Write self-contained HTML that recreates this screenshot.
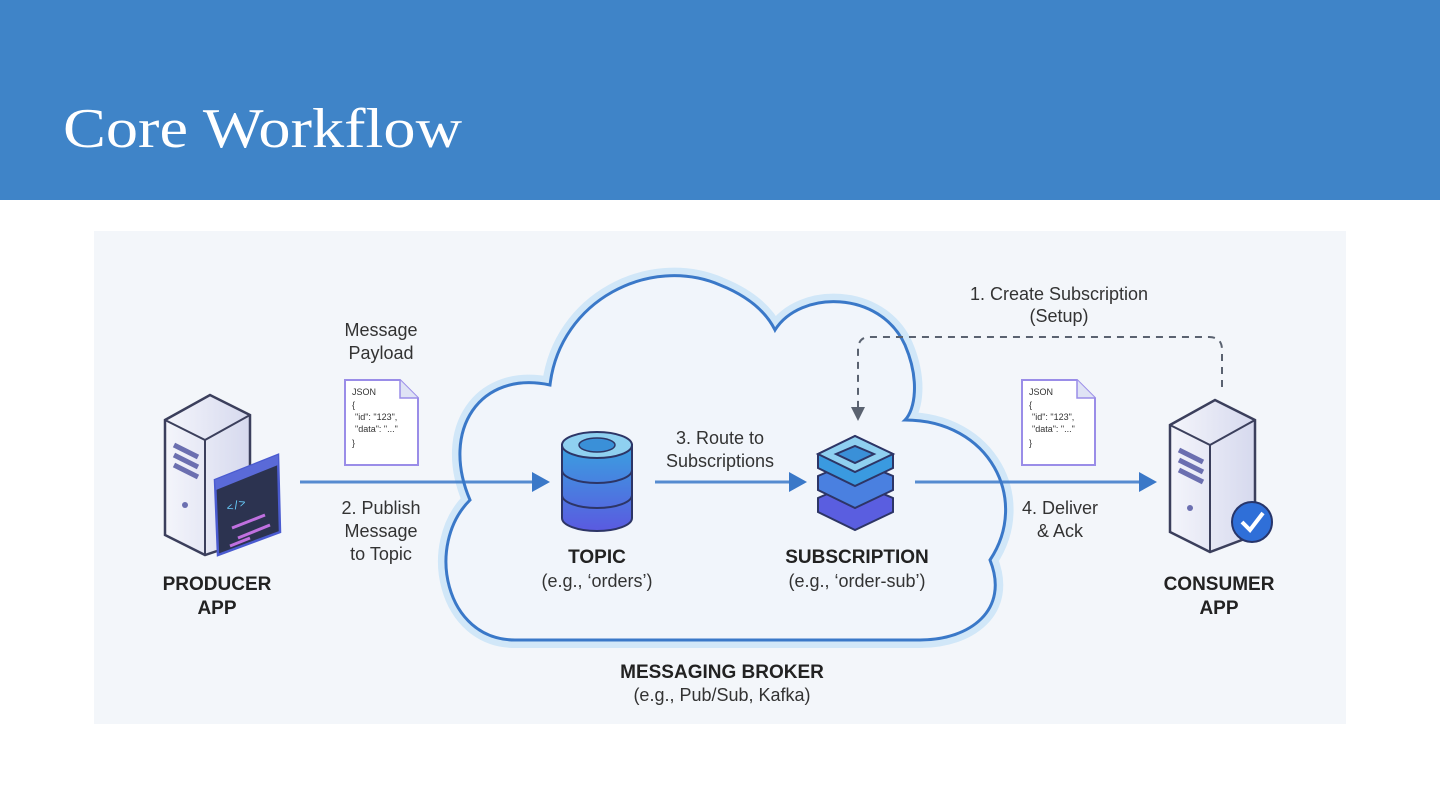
<!DOCTYPE html>
<html><head><meta charset="utf-8"><style>
html,body{margin:0;padding:0;width:1440px;height:810px;overflow:hidden;background:#fff}
svg{display:block}
</style></head><body>
<svg width="1440" height="810" viewBox="0 0 1440 810" xmlns="http://www.w3.org/2000/svg">
<defs>
<linearGradient id="cyl" x1="0" y1="0" x2="0" y2="1"><stop offset="0" stop-color="#3aa0e0"/><stop offset="1" stop-color="#5a5ae0"/></linearGradient>
<linearGradient id="srv" x1="0" x2="1"><stop offset="0" stop-color="#f4f5fb"/><stop offset="1" stop-color="#d6d9ee"/></linearGradient>
</defs>
<rect x="0" y="0" width="1440" height="200" fill="#3f84c8"/>
<text x="63" y="147" font-family="Liberation Serif, serif" font-size="56" fill="#fff" textLength="399" lengthAdjust="spacingAndGlyphs">Core Workflow</text>
<rect x="94" y="231" width="1252" height="493" fill="#f3f6fa"/>
<path d="M515 640 C445 640 425 545 470 500 C440 430 480 370 550 385 C560 300 650 255 720 285 C745 295 765 310 775 330 C800 290 880 290 905 345 C920 380 915 410 905 420 C990 420 1030 500 990 560 C1010 610 970 640 920 640 Z" fill="#e9f2fc" stroke="#c9e4f8" stroke-width="16" opacity="0.8"/>
<path d="M515 640 C445 640 425 545 470 500 C440 430 480 370 550 385 C560 300 650 255 720 285 C745 295 765 310 775 330 C800 290 880 290 905 345 C920 380 915 410 905 420 C990 420 1030 500 990 560 C1010 610 970 640 920 640 Z" fill="#f1f5fb" stroke="#3a78c8" stroke-width="3"/>
<g stroke="#3a78c8" stroke-width="3">
<line x1="300" y1="482" x2="535" y2="482" stroke-opacity="0.85"/>
<line x1="655" y1="482" x2="792" y2="482" stroke-opacity="0.85"/>
<line x1="915" y1="482" x2="1142" y2="482" stroke-opacity="0.85"/>
</g>
<g fill="#3a78c8">
<path d="M532 472 L550 482 L532 492 Z"/>
<path d="M789 472 L807 482 L789 492 Z"/>
<path d="M1139 472 L1157 482 L1139 492 Z"/>
</g>
<path d="M1222 387 L1222 350 Q1222 337 1209 337 L870 337 Q858 337 858 350 L858 408" fill="none" stroke="#5a6270" stroke-width="2" stroke-dasharray="7,6"/>
<path d="M851 407 L865 407 L858 421 Z" fill="#5a6270"/>
<g>
<path d="M165 420 L210 395 L250 415 L250 540 L205 555 L165 535 Z" fill="url(#srv)" stroke="#3b3f5c" stroke-width="2.5"/>
<path d="M165 420 L205 440 L250 415 M205 440 L205 555" fill="none" stroke="#3b3f5c" stroke-width="2"/>
<path d="M174 445 L198 457 M174 455 L198 467 M174 465 L198 477" stroke="#6b6fb0" stroke-width="5"/>
<circle cx="185" cy="505" r="3" fill="#6b6fb0"/>
<path d="M215 480 L278 455 L280 532 L218 555 Z" fill="#2c3350" stroke="#4a5bd0" stroke-width="2.5"/>
<path d="M215 480 L278 455 L278 465 L216 490 Z" fill="#5a6ad8"/>
<text x="228" y="512" font-family="Liberation Mono, monospace" font-size="11" fill="#6ad0ff" transform="rotate(-20 228 512)">&lt;/&gt;</text>
<path d="M232 528 L265 515 M238 538 L270 525 M230 546 L250 538" stroke="#c070e0" stroke-width="3"/>
</g>
<g>
<path d="M1170 425 L1215 400 L1255 420 L1255 535 L1210 552 L1170 532 Z" fill="url(#srv)" stroke="#3b3f5c" stroke-width="2.5"/>
<path d="M1170 425 L1210 445 L1255 420 M1210 445 L1210 552" fill="none" stroke="#3b3f5c" stroke-width="2"/>
<path d="M1179 450 L1203 462 M1179 460 L1203 472 M1179 470 L1203 482" stroke="#6b6fb0" stroke-width="5"/>
<circle cx="1190" cy="508" r="3" fill="#6b6fb0"/>
<circle cx="1252" cy="522" r="20" fill="#2f6fd8" stroke="#27356a" stroke-width="2"/>
<path d="M1242 522 L1250 530 L1263 513" fill="none" stroke="#fff" stroke-width="4"/>
</g>
<g>
<path d="M562 445 L562 518 A35 13 0 0 0 632 518 L632 445 Z" fill="url(#cyl)" stroke="#2d3566" stroke-width="2"/>
<ellipse cx="597" cy="445" rx="35" ry="13" fill="#8fd0f0" stroke="#2d3566" stroke-width="2"/>
<ellipse cx="597" cy="445" rx="18" ry="7" fill="#3a90d8" stroke="#2d3566" stroke-width="1.5"/>
<path d="M562 470 A35 13 0 0 0 632 470 M562 495 A35 13 0 0 0 632 495" fill="none" stroke="#2d3566" stroke-width="2"/>
</g>
<g stroke="#2d3566" stroke-width="2">
<path d="M818 498 L855 482 L893 498 L893 512 L855 530 L818 512 Z" fill="#5a5ee0"/>
<path d="M818 476 L855 460 L893 476 L893 490 L855 508 L818 490 Z" fill="#4a80e0"/>
<path d="M818 454 L855 436 L893 454 L893 468 L855 486 L818 468 Z" fill="#3a9ae0"/>
<path d="M818 454 L855 436 L893 454 L855 472 Z" fill="#8fd0f0"/>
<path d="M836 454 L855 446 L874 454 L855 463 Z" fill="#3a90d8"/>
</g>
<g font-family="Liberation Sans, sans-serif" font-size="9" fill="#333">
<path d="M345 380 L400 380 L418 398 L418 465 L345 465 Z" fill="#fff" stroke="#9a8de8" stroke-width="2"/>
<path d="M400 380 L400 398 L418 398" fill="#dfe3f5" stroke="#9a8de8" stroke-width="1.5"/>
<text x="352" y="395">JSON</text><text x="352" y="408">{</text>
<text x="355" y="420">"id": "123",</text><text x="355" y="432">"data": "..."</text><text x="352" y="446">}</text>
<path d="M1022 380 L1077 380 L1095 398 L1095 465 L1022 465 Z" fill="#fff" stroke="#9a8de8" stroke-width="2"/>
<path d="M1077 380 L1077 398 L1095 398" fill="#dfe3f5" stroke="#9a8de8" stroke-width="1.5"/>
<text x="1029" y="395">JSON</text><text x="1029" y="408">{</text>
<text x="1032" y="420">"id": "123",</text><text x="1032" y="432">"data": "..."</text><text x="1029" y="446">}</text>
</g>
<g font-family="Liberation Sans, sans-serif" font-size="18" fill="#333" text-anchor="middle">
<text x="381" y="336">Message</text><text x="381" y="359">Payload</text>
<text x="381" y="514">2. Publish</text><text x="381" y="537">Message</text><text x="381" y="560">to Topic</text>
<text x="720" y="444">3. Route to</text><text x="720" y="467">Subscriptions</text>
<text x="1059" y="300">1. Create Subscription</text><text x="1059" y="322">(Setup)</text>
<text x="1060" y="514">4. Deliver</text><text x="1060" y="537">&amp; Ack</text>
<text x="597" y="587">(e.g., ‘orders’)</text>
<text x="857" y="587">(e.g., ‘order-sub’)</text>
<text x="722" y="701">(e.g., Pub/Sub, Kafka)</text>
</g>
<g font-family="Liberation Sans, sans-serif" font-size="19" font-weight="bold" fill="#222" text-anchor="middle">
<text x="217" y="590">PRODUCER</text><text x="217" y="614">APP</text>
<text x="597" y="563">TOPIC</text>
<text x="857" y="563">SUBSCRIPTION</text>
<text x="1219" y="590">CONSUMER</text><text x="1219" y="614">APP</text>
<text x="722" y="678">MESSAGING BROKER</text>
</g>
</svg>
</body></html>
